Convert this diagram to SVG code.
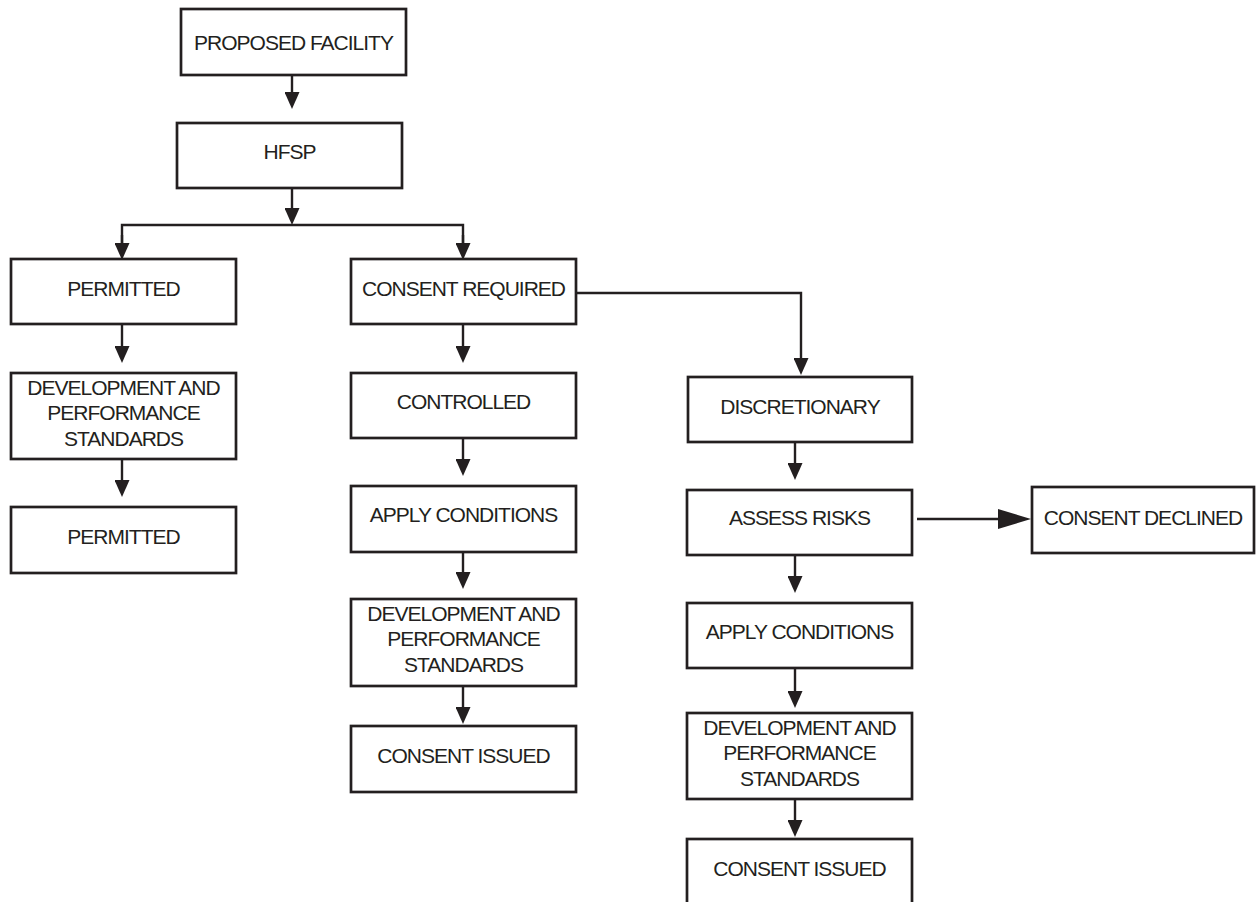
<svg xmlns="http://www.w3.org/2000/svg" width="1257" height="902" viewBox="0 0 1257 902">
<style>
  .box{fill:#ffffff;stroke:#231f20;stroke-width:2.7}
  .lbl{font-family:"Liberation Sans",Arial,Helvetica,sans-serif;font-size:21px;fill:#231f20;text-anchor:middle;letter-spacing:-1px}
  .con{fill:none;stroke:#231f20;stroke-width:2.4}
  .arr{marker-end:url(#ah)}
</style>
<defs>
  <marker id="ah" viewBox="0 0 15 17" refX="7.5" refY="0" markerWidth="15" markerHeight="17" markerUnits="userSpaceOnUse" orient="0">
    <path d="M0,0 L15,0 L7.5,17 z" fill="#231f20"/>
  </marker>
  <marker id="ahBig" viewBox="0 0 33 20" refX="0" refY="10" markerWidth="33" markerHeight="20" markerUnits="userSpaceOnUse" orient="auto">
    <path d="M0,0 L33,10 L0,20 z" fill="#231f20"/>
  </marker>
</defs>
<rect width="1257" height="902" fill="#ffffff"/>
<g id="connectors">
  <line class="con arr" x1="292" y1="75" x2="292" y2="92"/>
  <line class="con arr" x1="292" y1="188" x2="292" y2="208"/>
  <polyline class="con" points="122,243 122,225 463,225 463,243"/>
  <line class="con arr" x1="122" y1="235" x2="122" y2="243"/>
  <line class="con arr" x1="463" y1="235" x2="463" y2="243"/>
  <line class="con arr" x1="122" y1="324" x2="122" y2="346"/>
  <line class="con arr" x1="122" y1="459" x2="122" y2="480"/>
  <line class="con arr" x1="463" y1="324" x2="463" y2="346"/>
  <line class="con arr" x1="463" y1="438" x2="463" y2="459"/>
  <line class="con arr" x1="463" y1="552" x2="463" y2="572"/>
  <line class="con arr" x1="463" y1="686" x2="463" y2="707"/>
  <polyline class="con arr" points="576,293 801,293 801,358"/>
  <line class="con arr" x1="795" y1="442" x2="795" y2="463"/>
  <line class="con arr" x1="795" y1="555" x2="795" y2="576"/>
  <line class="con arr" x1="795" y1="668" x2="795" y2="691"/>
  <line class="con arr" x1="795" y1="799" x2="795" y2="820"/>
  <line class="con" x1="917" y1="519" x2="998" y2="519" marker-end="url(#ahBig)"/>
</g>
<g id="proposed-facility"><rect class="box" x="181" y="9" width="225" height="66"/><text class="lbl" x="293.5" y="50">PROPOSED FACILITY</text></g>
<g id="hfsp"><rect class="box" x="177" y="123" width="225" height="65"/><text class="lbl" x="289.5" y="159">HFSP</text></g>
<g id="permitted-1"><rect class="box" x="11" y="259" width="225" height="65"/><text class="lbl" x="123.5" y="296">PERMITTED</text></g>
<g id="dev-standards-1"><rect class="box" x="11" y="373" width="225" height="86"/><text class="lbl" x="123.5" y="395">DEVELOPMENT AND</text><text class="lbl" x="123.5" y="420">PERFORMANCE</text><text class="lbl" x="123.5" y="446">STANDARDS</text></g>
<g id="permitted-2"><rect class="box" x="11" y="507" width="225" height="66"/><text class="lbl" x="123.5" y="544">PERMITTED</text></g>
<g id="consent-required"><rect class="box" x="351" y="259" width="225" height="65"/><text class="lbl" x="463.5" y="296">CONSENT REQUIRED</text></g>
<g id="controlled"><rect class="box" x="351" y="373" width="225" height="65"/><text class="lbl" x="463.5" y="409">CONTROLLED</text></g>
<g id="apply-conditions-1"><rect class="box" x="351" y="486" width="225" height="66"/><text class="lbl" x="463.5" y="522">APPLY CONDITIONS</text></g>
<g id="dev-standards-2"><rect class="box" x="351" y="599" width="225" height="87"/><text class="lbl" x="463.5" y="621">DEVELOPMENT AND</text><text class="lbl" x="463.5" y="646">PERFORMANCE</text><text class="lbl" x="463.5" y="672">STANDARDS</text></g>
<g id="consent-issued-1"><rect class="box" x="351" y="726" width="225" height="66"/><text class="lbl" x="463.5" y="763">CONSENT ISSUED</text></g>
<g id="discretionary"><rect class="box" x="688" y="377" width="224" height="65"/><text class="lbl" x="800" y="414">DISCRETIONARY</text></g>
<g id="assess-risks"><rect class="box" x="687" y="490" width="225" height="65"/><text class="lbl" x="799.5" y="525">ASSESS RISKS</text></g>
<g id="apply-conditions-2"><rect class="box" x="687" y="603" width="225" height="65"/><text class="lbl" x="799.5" y="639">APPLY CONDITIONS</text></g>
<g id="dev-standards-3"><rect class="box" x="687" y="713" width="225" height="86"/><text class="lbl" x="799.5" y="735">DEVELOPMENT AND</text><text class="lbl" x="799.5" y="760">PERFORMANCE</text><text class="lbl" x="799.5" y="786">STANDARDS</text></g>
<g id="consent-issued-2"><rect class="box" x="687" y="839" width="225" height="75"/><text class="lbl" x="799.5" y="876">CONSENT ISSUED</text></g>
<g id="consent-declined"><rect class="box" x="1032" y="487" width="222" height="66"/><text class="lbl" x="1143" y="525">CONSENT DECLINED</text></g>
</svg>
